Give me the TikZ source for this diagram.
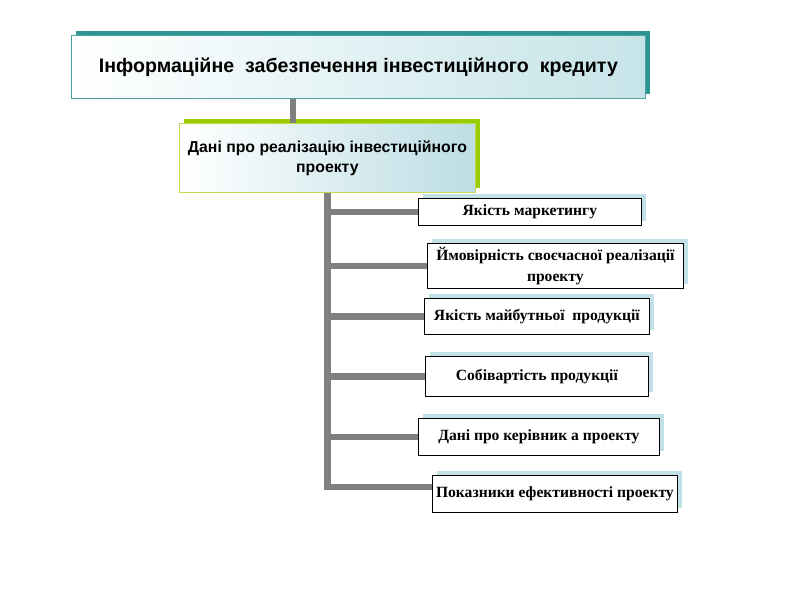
\documentclass[tikz,border=0pt]{standalone}
\usepackage{fontspec}
\setmainfont{Liberation Serif}
\newfontfamily\arialf{Liberation Sans}
\usetikzlibrary{shadows}
\definecolor{conn}{HTML}{808080}
\definecolor{topshadow}{HTML}{2E9595}
\definecolor{topborder}{HTML}{4DA3A3}
\definecolor{topgrad}{HTML}{C6E4E8}
\definecolor{midshadow}{HTML}{99CC00}
\definecolor{midborder}{HTML}{C4DA50}
\definecolor{midgrad}{HTML}{BCDDE4}
\definecolor{smallshadow}{HTML}{C2E1E7}
\tikzset{
  topbox/.style={draw=topborder, line width=0.8pt, left color=white, right color=topgrad,
    inner sep=0pt, anchor=north west, align=center,
    drop shadow={shadow xshift=5pt, shadow yshift=4pt, fill=topshadow, opacity=1},
    font=\arialf\bfseries\fontsize{19.6}{23}\selectfont},
  midbox/.style={draw=midborder, line width=0.8pt, left color=white, right color=midgrad,
    inner sep=0pt, anchor=north west, align=center,
    drop shadow={shadow xshift=5pt, shadow yshift=4pt, fill=midshadow, opacity=1},
    font=\arialf\bfseries\fontsize{15.8}{20}\selectfont},
  itembox/.style={draw=black, line width=0.8pt, fill=white,
    inner sep=0pt, anchor=north west, align=center,
    drop shadow={shadow xshift=5pt, shadow yshift=4pt, fill=smallshadow, opacity=1},
    font=\bfseries\fontsize{15.6}{21}\selectfont},
  conline/.style={draw=conn, line width=6.5pt, line join=miter}
}
\begin{document}
\begin{tikzpicture}[x=1pt,y=-1pt]
\useasboundingbox (0,0) rectangle (800,600);
\node[topbox, minimum width=574pt, minimum height=63pt] (top) at (71,35)
  {Інформаційне\ \ забезпечення інвестиційного\ \ кредиту};
\node[midbox, minimum width=296pt, minimum height=69pt] (mid) at (179,123)
  {Дані про реалізацію інвестиційного\\проекту};
\node[itembox, minimum width=223pt, minimum height=27pt] (b1) at (418,198) {Якість маркетингу};
\node[itembox, minimum width=256pt, minimum height=45pt] (b2) at (427,243) {Ймовірність своєчасної реалізації\\проекту};
\node[itembox, minimum width=225pt, minimum height=36pt] (b3) at (424,298) {Якість майбутньої\ \ продукції};
\node[itembox, minimum width=223pt, minimum height=40pt] (b4) at (425,356) {Собівартість продукції};
\node[itembox, minimum width=241pt, minimum height=37pt] (b5) at (418,418) {Дані про керівник а проекту};
\node[itembox, minimum width=245pt, minimum height=37pt] (b6) at (432,475) {Показники ефективності проекту};
\coordinate (c1) at (293,0);
\coordinate (tx) at (327.5,0);
\coordinate (tb) at (327.5,487);
\draw[conline] (top.south -| c1) -- (mid.north -| c1);
\draw[conline] (mid.south -| tx) -- (tb) -- (tb -| b6.west);
\draw[conline] (b1.west -| tx) -- (b1.west);
\draw[conline] (b2.west -| tx) -- (b2.west);
\draw[conline] (b3.west -| tx) -- (b3.west);
\draw[conline] (b4.west -| tx) -- (b4.west);
\draw[conline] (b5.west -| tx) -- (b5.west);
\end{tikzpicture}
\end{document}
